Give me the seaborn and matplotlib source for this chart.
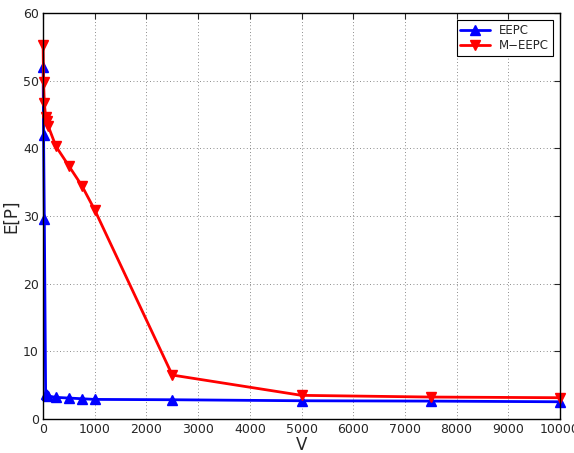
import matplotlib
matplotlib.use("Agg")
import matplotlib.pyplot as plt
import seaborn as sns
import pandas as pd

V = [1, 10, 25, 50, 75, 100, 250, 500, 750, 1000, 2500, 5000, 7500, 10000]
eepc = [52.0, 42.0, 29.5, 3.7, 3.5, 3.4, 3.2, 3.1, 3.0, 2.9, 2.85, 2.7, 2.65, 2.55]
meepc = [55.3, 49.8, 46.7, 44.6, 44.0, 43.3, 40.3, 37.4, 34.5, 30.9, 6.5, 3.5, 3.25, 3.15]
xticks = [0, 1000, 2000, 3000, 4000, 5000, 6000, 7000, 8000, 9000, 10000]
yticks = [0, 10, 20, 30, 40, 50, 60]

sns.set_style("white")
plt.rcParams['font.family'] = ['DejaVu Sans']

df = pd.DataFrame({"V": V * 2, "E": eepc + meepc,
                   "series": ["EEPC"] * len(V) + ["M\u2212EEPC"] * len(V)})

fig = plt.figure(figsize=(5.74, 4.53), dpi=100)
ax = fig.add_axes([0.075, 0.075, 0.9006, 0.896])

colors = {"EEPC": "#0000ff", "M\u2212EEPC": "#ff0000"}
sns.lineplot(data=df, x="V", y="E", hue="series", style="series",
             markers={"EEPC": "^", "M\u2212EEPC": "v"}, dashes=False,
             palette=colors,
             linewidth=2, markersize=7, markeredgewidth=1.0, sort=False, ax=ax)

for line in ax.get_lines():
    c = line.get_color()
    line.set_markeredgecolor(c)
    line.set_markerfacecolor(c)
    line.set_clip_on(False)

ax.set_xlim(0, 10000)
ax.set_ylim(0, 60)
ax.set_xticks(xticks)
ax.set_yticks(yticks)
ax.set_xticklabels([str(t) for t in xticks], fontsize=9)
ax.set_yticklabels([str(t) for t in yticks], fontsize=9)
ax.tick_params(direction="in", length=4, width=0.8, top=True, right=True, pad=3)
ax.grid(True, linestyle=(0, (1, 3)), color="#000000", linewidth=0.6, alpha=0.6)
for s in ax.spines.values():
    s.set_color("black")
    s.set_linewidth(1.0)
ax.set_xlabel("V", fontsize=12, labelpad=0)
ax.set_ylabel("E[P]", fontsize=12, labelpad=2)

leg = ax.legend(loc="upper right", fontsize=8.5, frameon=True, fancybox=False,
                edgecolor="black", framealpha=1, handlelength=2.5,
                borderpad=0.3, labelspacing=0.2, borderaxespad=0.6)
leg.get_frame().set_linewidth(0.8)
for h in leg.get_lines():
    h.set_markeredgecolor(h.get_color())
    h.set_markerfacecolor(h.get_color())

fig.savefig("out.png", dpi=100)
